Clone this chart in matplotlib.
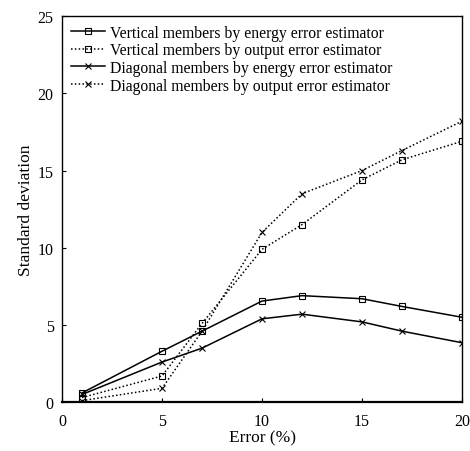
import matplotlib
matplotlib.use("Agg")
import matplotlib.pyplot as plt

errors = [1, 5, 7, 10, 12, 15, 17, 20]
vert_energy = [0.6, 3.3, 4.6, 6.55, 6.9, 6.7, 6.2, 5.5]
vert_output = [0.3, 1.7, 5.1, 9.9, 11.5, 14.4, 15.7, 16.9]
diag_energy = [0.5, 2.6, 3.5, 5.4, 5.7, 5.2, 4.6, 3.85]
diag_output = [0.1, 0.9, 4.6, 11.0, 13.5, 15.0, 16.3, 18.2]
labels = ["Vertical members by energy error estimator",
          "Vertical members by output error estimator",
          "Diagonal members by energy error estimator",
          "Diagonal members by output error estimator"]

plt.rcParams['font.family'] = ['Liberation Serif', 'DejaVu Serif']

fig = plt.figure(figsize=(4.7, 4.52), dpi=100)
ax = fig.add_axes([0.132, 0.108, 0.851, 0.854])

ax.plot(errors, vert_energy, color='black', lw=1.1, ls='-', marker='s',
        mfc='none', ms=4.5, mew=0.8, label=labels[0])
ax.plot(errors, vert_output, color='black', lw=1.1, ls=(0, (1, 1.5)), marker='s',
        mfc='none', ms=4.5, mew=0.8, label=labels[1])
ax.plot(errors, diag_energy, color='black', lw=1.1, ls='-', marker='x',
        ms=4.5, mew=0.8, label=labels[2])
ax.plot(errors, diag_output, color='black', lw=1.1, ls=(0, (1, 1.5)), marker='x',
        ms=4.5, mew=0.8, label=labels[3])

ax.set_xlim(0, 20)
ax.set_ylim(0, 25)
ax.set_xticks([0, 5, 10, 15, 20])
ax.set_yticks([0, 5, 10, 15, 20, 25])
ax.tick_params(direction='in', length=3, labelsize=11.5)
ax.tick_params(axis='x', pad=8)
ax.tick_params(axis='y', pad=6)
ax.set_xlabel("Error (%)", fontsize=12.5, labelpad=0)
ax.set_ylabel("Standard deviation", fontsize=12.5, labelpad=3)
for s in ax.spines.values():
    s.set_linewidth(1.0)
ax.spines['bottom'].set_linewidth(1.6)

ax.legend(loc='upper left', frameon=False, fontsize=11.3, handlelength=2.2,
          handletextpad=0.3, labelspacing=0.1, borderaxespad=0.15,
          bbox_to_anchor=(0.0, 1.0))

fig.savefig("out.png", dpi=100)
